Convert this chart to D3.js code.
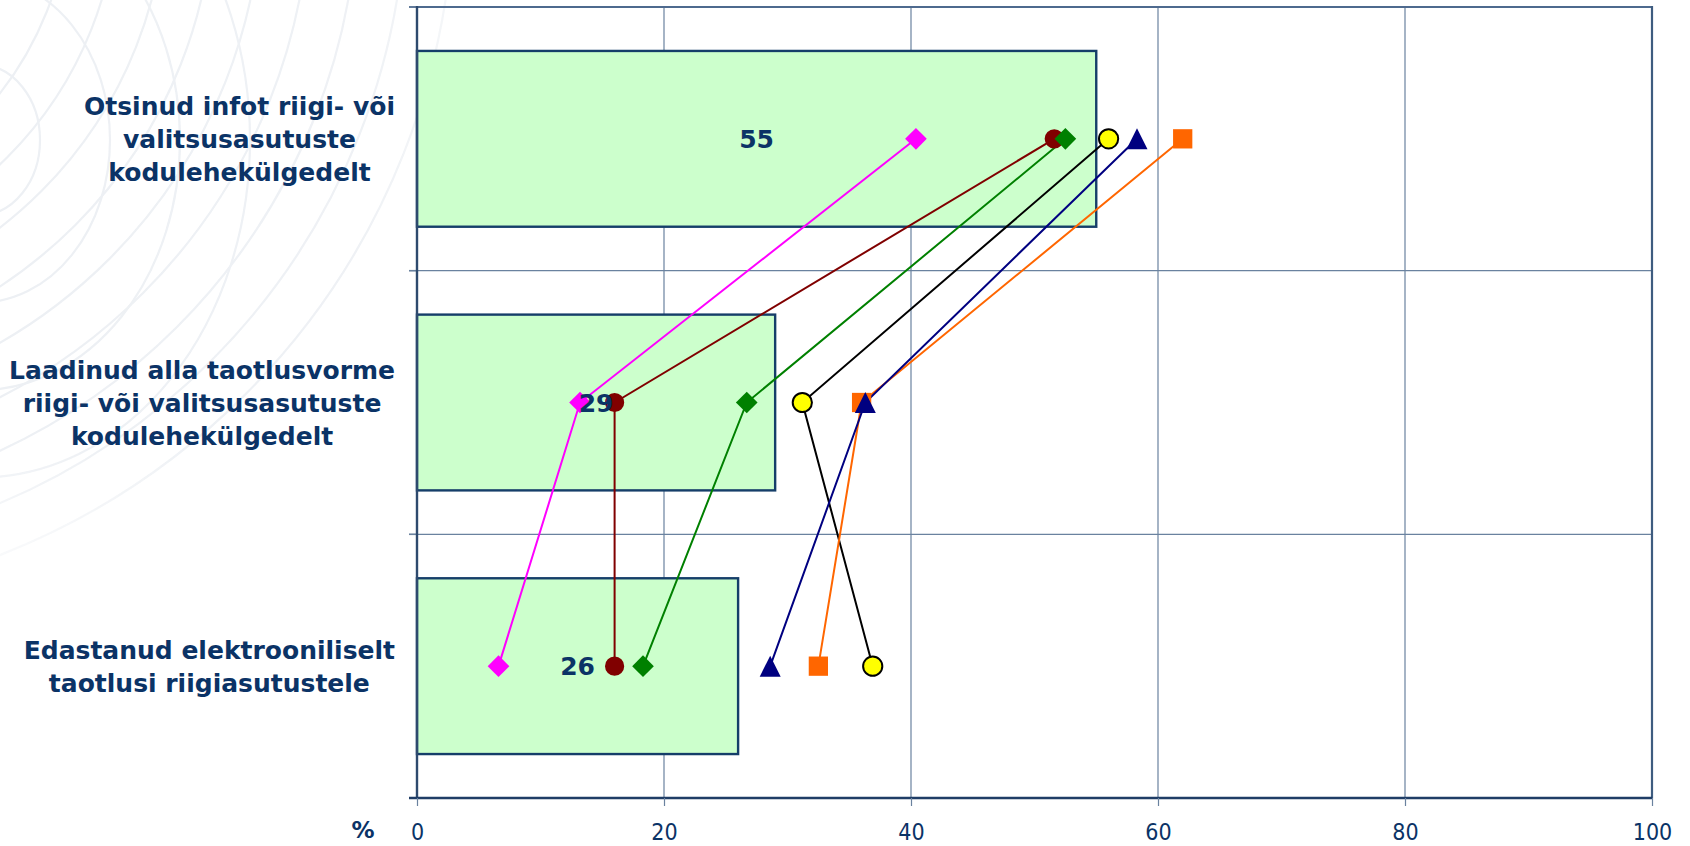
<!DOCTYPE html>
<html>
<head>
<meta charset="utf-8">
<script src="https://cdn.jsdelivr.net/npm/d3@7"></script>
<style>
  html, body { margin: 0; padding: 0; background: #ffffff; }
  svg { display: block; }
</style>
</head>
<body>
<svg id="chart" width="1690" height="846"></svg>
<script>
// ---- data -------------------------------------------------------------
const categories = [
  ["Otsinud infot riigi- või", "valitsusasutuste", "kodulehekülgedelt"],
  ["Laadinud alla taotlusvorme", "riigi- või valitsusasutuste", "kodulehekülgedelt"],
  ["Edastanud elektrooniliselt", "taotlusi riigiasutustele"]
];
const barValues = [55, 29, 26];

// one value per category, top to bottom
const magentaDiamond = [40.4, 13.2, 6.6];
const darkRedCircle  = [51.6, 16.0, 16.0];
const greenDiamond   = [52.5, 26.7, 18.3];
const yellowCircle   = [56.0, 31.2, 36.9];
const orangeSquare   = [62.0, 36.0, 32.5];
const navyTriangle   = [58.3, 36.3, 28.6];

const xTicks = [0, 20, 40, 60, 80, 100];
const axisUnit = "%";

// ---- series styling (drawn in this order) -------------------------------
const series = [
  { values: magentaDiamond, shape: "diamond",  fill: "#FF00FF", line: "#FF00FF", stroke: "none" },
  { values: darkRedCircle,  shape: "circle",   fill: "#800000", line: "#800000", stroke: "none" },
  { values: greenDiamond,   shape: "diamond",  fill: "#008000", line: "#008000", stroke: "none" },
  { values: yellowCircle,   shape: "circle",   fill: "#FFFF00", line: "#000000", stroke: "#000000" },
  { values: orangeSquare,   shape: "square",   fill: "#FF6600", line: "#FF6600", stroke: "none" },
  { values: navyTriangle,   shape: "triangle", fill: "#000080", line: "#000080", stroke: "none" }
];

// ---- layout -----------------------------------------------------------
const W = 1690, H = 846;
const plot = { left: 417, right: 1652, top: 7, bottom: 798 };
const navy = "#0B3366";
const gridColor = "#6A829F";

const svg = d3.select("#chart");

const x = d3.scaleLinear().domain([0, 100]).range([plot.left, plot.right]);
const y = d3.scaleBand()
  .domain(d3.range(categories.length))
  .range([plot.top, plot.bottom])
  .paddingInner(1 / 3)
  .paddingOuter(1 / 6);
const step = y.step();
const bandTop = i => plot.top + i * step;
const center = i => y(i) + y.bandwidth() / 2;

// ---- faint globe watermark on the left -------------------------------
const defs = svg.append("defs");
const fade = defs.append("linearGradient").attr("id", "fade")
  .attr("gradientUnits", "userSpaceOnUse")
  .attr("x1", 0).attr("x2", 600).attr("y1", 0).attr("y2", 0);
fade.append("stop").attr("offset", 0).attr("stop-color", "#fff").attr("stop-opacity", 1);
fade.append("stop").attr("offset", 0.6).attr("stop-color", "#fff").attr("stop-opacity", 0.9);
fade.append("stop").attr("offset", 1).attr("stop-color", "#fff").attr("stop-opacity", 0);
const fadeV = defs.append("linearGradient").attr("id", "fadeV")
  .attr("gradientUnits", "userSpaceOnUse")
  .attr("x1", 0).attr("x2", 0).attr("y1", 0).attr("y2", 620);
fadeV.append("stop").attr("offset", 0).attr("stop-color", "#fff").attr("stop-opacity", 1);
fadeV.append("stop").attr("offset", 0.7).attr("stop-color", "#fff").attr("stop-opacity", 1);
fadeV.append("stop").attr("offset", 1).attr("stop-color", "#fff").attr("stop-opacity", 0);
defs.append("mask").attr("id", "wmMask")
  .append("rect").attr("width", W).attr("height", H).attr("fill", "url(#fade)");
defs.append("mask").attr("id", "wmMaskV")
  .append("rect").attr("width", W).attr("height", H).attr("fill", "url(#fadeV)");

const wm = svg.append("g").attr("mask", "url(#wmMaskV)")
  .append("g").attr("mask", "url(#wmMask)")
  .attr("fill", "none").attr("stroke", "#EDF0F4").attr("stroke-width", 2.2);
// large sweeping rings
d3.range(330, 760, 48).forEach(r => {
  wm.append("circle").attr("cx", -260).attr("cy", -110).attr("r", r);
});
// inner rings
d3.range(60, 330, 70).forEach(r => {
  wm.append("ellipse").attr("cx", -20).attr("cy", 140).attr("rx", r).attr("ry", r * 1.25);
});

// ---- grid -------------------------------------------------------------
const grid = svg.append("g").attr("stroke", gridColor).attr("stroke-width", 1.2);
grid.selectAll("line.v")
  .data(xTicks.filter(t => t > 0 && t < 100))
  .join("line")
  .attr("x1", d => x(d)).attr("x2", d => x(d))
  .attr("y1", plot.top).attr("y2", plot.bottom);
const boundaries = d3.range(1, categories.length).map(bandTop);
grid.selectAll("line.h")
  .data(boundaries)
  .join("line")
  .attr("x1", plot.left - 8).attr("x2", plot.right)
  .attr("y1", d => d).attr("y2", d => d);

// ---- bars -------------------------------------------------------------
svg.append("g").selectAll("rect")
  .data(barValues)
  .join("rect")
  .attr("x", x(0))
  .attr("y", (d, i) => y(i))
  .attr("width", d => x(d) - x(0))
  .attr("height", y.bandwidth())
  .attr("fill", "#CCFFCC")
  .attr("stroke", "#153E69")
  .attr("stroke-width", 2.4);

// ---- plot frame & axes --------------------------------------------------
svg.append("line")
  .attr("x1", plot.left - 8).attr("x2", plot.right)
  .attr("y1", plot.top).attr("y2", plot.top)
  .attr("stroke", "#4E6A8E").attr("stroke-width", 2);
svg.append("line")
  .attr("x1", plot.right).attr("x2", plot.right)
  .attr("y1", plot.top - 1).attr("y2", plot.bottom)
  .attr("stroke", "#3E5C80").attr("stroke-width", 2.2);

// left axis with ticks at category boundaries
const yTicks = d3.range(0, categories.length + 1).map(bandTop);
const leftAxis = svg.append("g");
leftAxis.selectAll("line")
  .data(yTicks)
  .join("line")
  .attr("x1", plot.left - 8).attr("x2", plot.left)
  .attr("y1", d => d).attr("y2", d => d)
  .attr("stroke", gridColor).attr("stroke-width", 1.5);
leftAxis.append("line")
  .attr("x1", plot.left).attr("x2", plot.left)
  .attr("y1", plot.top - 1).attr("y2", plot.bottom + 1)
  .attr("stroke", "#2E4A6E").attr("stroke-width", 2.4);

// bottom value axis
const xAxis = d3.axisBottom(x).tickValues(xTicks).tickSize(8).tickSizeOuter(0);
const gx = svg.append("g")
  .attr("transform", `translate(0,${plot.bottom})`)
  .call(xAxis);
gx.select(".domain").attr("stroke", "#1F3D66").attr("stroke-width", 2.4)
  .attr("d", `M${plot.left - 8},0H${plot.right}`);
gx.selectAll(".tick line").attr("stroke", gridColor).attr("stroke-width", 1.2);
gx.selectAll(".tick text")
  .attr("y", 42).attr("dy", 0)
  .attr("fill", navy)
  .attr("font-family", "'DejaVu Sans Condensed', 'Liberation Sans', sans-serif")
  .attr("font-size", 23);

svg.append("text")
  .attr("x", 363).attr("y", 838)
  .attr("text-anchor", "middle")
  .attr("fill", navy)
  .attr("font-family", "'DejaVu Sans', sans-serif")
  .attr("font-weight", "bold")
  .attr("font-size", 23)
  .text(axisUnit);

// ---- category labels --------------------------------------------------
const labelRight = 395;
const lineH = 33;
categories.forEach((lines, i) => {
  const t = svg.append("text")
    .attr("text-anchor", "middle")
    .attr("fill", navy)
    .attr("font-family", "'DejaVu Sans', Verdana, sans-serif")
    .attr("font-weight", "bold")
    .attr("font-size", 25);
  const spans = lines.map((s, k) => t.append("tspan")
    .attr("y", center(i) + (k - (lines.length - 1) / 2) * lineH + 9)
    .text(s));
  const maxW = d3.max(spans, sp => sp.node().getComputedTextLength());
  spans.forEach(sp => sp.attr("x", labelRight - maxW / 2));
});

// ---- series lines & markers -------------------------------------------
const triangleType = {
  draw(ctx, size) {
    const h = Math.sqrt(size) * 1.05;
    const w = h;
    ctx.moveTo(0, -h / 2);
    ctx.lineTo(w / 2, h / 2);
    ctx.lineTo(-w / 2, h / 2);
    ctx.closePath();
  }
};
const markerPath = {
  circle:   d3.symbol().type(d3.symbolCircle).size(290)(),
  square:   d3.symbol().type(d3.symbolSquare).size(372)(),
  diamond:  d3.symbol().type(d3.symbolSquare).size(235)(),
  triangle: d3.symbol().type(triangleType).size(400)()
};

const line = d3.line()
  .x(d => x(d.v))
  .y(d => center(d.i));

const sg = svg.append("g");
series.forEach(s => {
  const pts = s.values.map((v, i) => ({ v, i }));
  sg.append("path")
    .attr("d", line(pts))
    .attr("fill", "none")
    .attr("stroke", s.line)
    .attr("stroke-width", 2);
});
series.forEach(s => {
  const pts = s.values.map((v, i) => ({ v, i }));
  sg.append("g").selectAll("path")
    .data(pts)
    .join("path")
    .attr("d", markerPath[s.shape])
    .attr("transform", d => `translate(${x(d.v)},${center(d.i)})` + (s.shape === "diamond" ? " rotate(45)" : ""))
    .attr("fill", s.fill)
    .attr("stroke", s.stroke)
    .attr("stroke-width", s.stroke === "none" ? 0 : 2);
});

// ---- value labels on bars ---------------------------------------------
svg.append("g").selectAll("text")
  .data(barValues)
  .join("text")
  .attr("x", d => x(d / 2))
  .attr("y", (d, i) => center(i))
  .attr("dy", "0.36em")
  .attr("text-anchor", "middle")
  .attr("fill", navy)
  .attr("font-family", "'DejaVu Sans', Verdana, sans-serif")
  .attr("font-weight", "bold")
  .attr("font-size", 25)
  .text(d => d);
</script>
</body>
</html>
